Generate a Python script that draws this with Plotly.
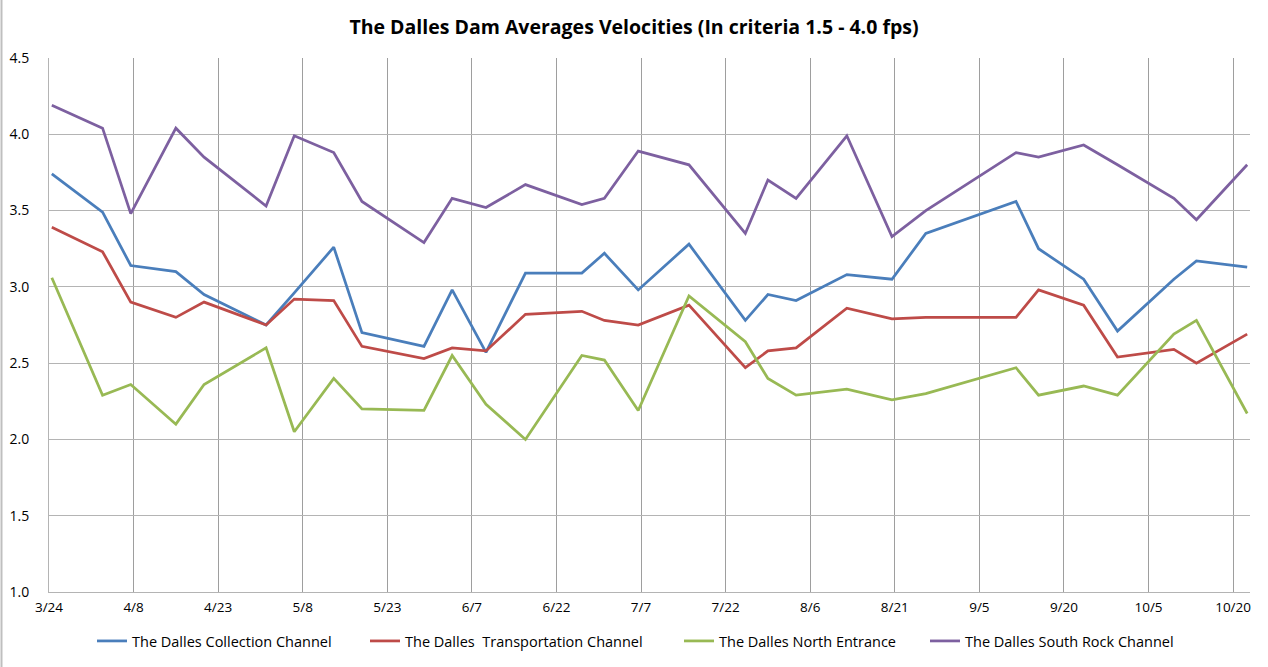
import plotly.graph_objects as go
import pandas as pd

dates = ["2011-03-24", "2011-04-02", "2011-04-07", "2011-04-15", "2011-04-20", "2011-05-01",
         "2011-05-06", "2011-05-13", "2011-05-18", "2011-05-29", "2011-06-03", "2011-06-09",
         "2011-06-16", "2011-06-26", "2011-06-30", "2011-07-06", "2011-07-15", "2011-07-25",
         "2011-07-29", "2011-08-03", "2011-08-12", "2011-08-20", "2011-08-26", "2011-09-11",
         "2011-09-15", "2011-09-23", "2011-09-29", "2011-10-09", "2011-10-13", "2011-10-22"]

collection = [3.74, 3.49, 3.14, 3.10, 2.95, 2.75, 2.96, 3.26, 2.70, 2.61, 2.98, 2.57, 3.09, 3.09, 3.22,
              2.98, 3.28, 2.78, 2.95, 2.91, 3.08, 3.05, 3.35, 3.56, 3.25, 3.05, 2.71, 3.05, 3.17, 3.13]
transportation = [3.39, 3.23, 2.90, 2.80, 2.90, 2.75, 2.92, 2.91, 2.61, 2.53, 2.60, 2.58, 2.82, 2.84, 2.78,
                  2.75, 2.88, 2.47, 2.58, 2.60, 2.86, 2.79, 2.80, 2.80, 2.98, 2.88, 2.54, 2.59, 2.50, 2.69]
north_entrance = [3.06, 2.29, 2.36, 2.10, 2.36, 2.60, 2.05, 2.40, 2.20, 2.19, 2.55, 2.23, 2.00, 2.55, 2.52,
                  2.19, 2.94, 2.64, 2.40, 2.29, 2.33, 2.26, 2.30, 2.47, 2.29, 2.35, 2.29, 2.69, 2.78, 2.17]
south_rock = [4.19, 4.04, 3.48, 4.04, 3.85, 3.53, 3.99, 3.88, 3.56, 3.29, 3.58, 3.52, 3.67, 3.54, 3.58,
              3.89, 3.80, 3.35, 3.70, 3.58, 3.99, 3.33, 3.50, 3.88, 3.85, 3.93, 3.80, 3.58, 3.44, 3.80]

series_names = ["The Dalles Collection Channel", "The Dalles  Transportation Channel",
                "The Dalles North Entrance", "The Dalles South Rock Channel"]
colors = ["#4A7EBB", "#BE4B48", "#98B954", "#7D60A0"]

title_text = "The Dalles Dam Averages Velocities (In criteria 1.5 - 4.0 fps)"

# Excel date axis: points sit in the middle of their day
x = pd.to_datetime(dates) + pd.Timedelta(hours=12)

W, H = 1268, 667
PLOT_W, PLOT_H = 1201, 534
legend_line_starts = [97, 370, 684, 930]
legend_ids = ["legend", "legend2", "legend3", "legend4"]

fig = go.Figure()
for name, vals, col, lid in zip(series_names, [collection, transportation, north_entrance, south_rock],
                                colors, legend_ids):
    fig.add_trace(go.Scatter(x=x, y=vals, mode="lines", name=name.replace("  ", "&nbsp; "),
                             line=dict(color=col, width=2.75), legend=lid))

legend_font = dict(family="Open Sans", size=14.5, color="black")
legend_layouts = {}
for lid, px in zip(legend_ids, legend_line_starts):
    legend_layouts[lid] = dict(orientation="h", xref="container", yref="container",
                               x=(px - 5) / W, xanchor="left",
                               y=1 - 641 / H, yanchor="middle", font=legend_font, itemwidth=30,
                               bgcolor="rgba(0,0,0,0)", borderwidth=0)

fig.update_layout(
    width=W, height=H,
    paper_bgcolor="white", plot_bgcolor="white",
    margin=dict(l=49, r=18, t=58, b=75, autoexpand=False),
    title=dict(text="<b>" + title_text + "</b>", x=0.5, xanchor="center", y=0.9588, yanchor="middle",
               font=dict(family="Open Sans", size=19.5, color="black")),
    font=dict(family="Open Sans", size=13, color="black"),
    showlegend=True,
    xaxis=dict(type="date", range=["2011-03-24", "2011-10-23"], tick0="2011-03-24",
               dtick=15 * 86400000, tickformat="%-m/%-d", showgrid=True, gridcolor="#9E9E9E", gridwidth=1,
               showline=True, linecolor="#B4B4B4", linewidth=1, ticks="", ticklabelstandoff=3,
               tickfont=dict(size=13.5), zeroline=False, automargin=False),
    yaxis=dict(range=[1, 4.5], dtick=0.5, tickformat=".1f", showgrid=True, gridcolor="#B4B4B4", gridwidth=1,
               showline=True, linecolor="#B4B4B4", linewidth=1, ticks="", ticklabelstandoff=16,
               tickfont=dict(size=14), zeroline=False, automargin=False),
    **legend_layouts,
)
fig.add_shape(type="line", xref="paper", yref="paper", x0=-47.5 / PLOT_W, x1=-47.5 / PLOT_W,
              y0=-75 / PLOT_H, y1=58 / PLOT_H + 1, line=dict(color="#BFBFBF", width=2))

fig.write_html("out.html", config={"displayModeBar": False},
               post_script="document.body.style.margin='0';")
